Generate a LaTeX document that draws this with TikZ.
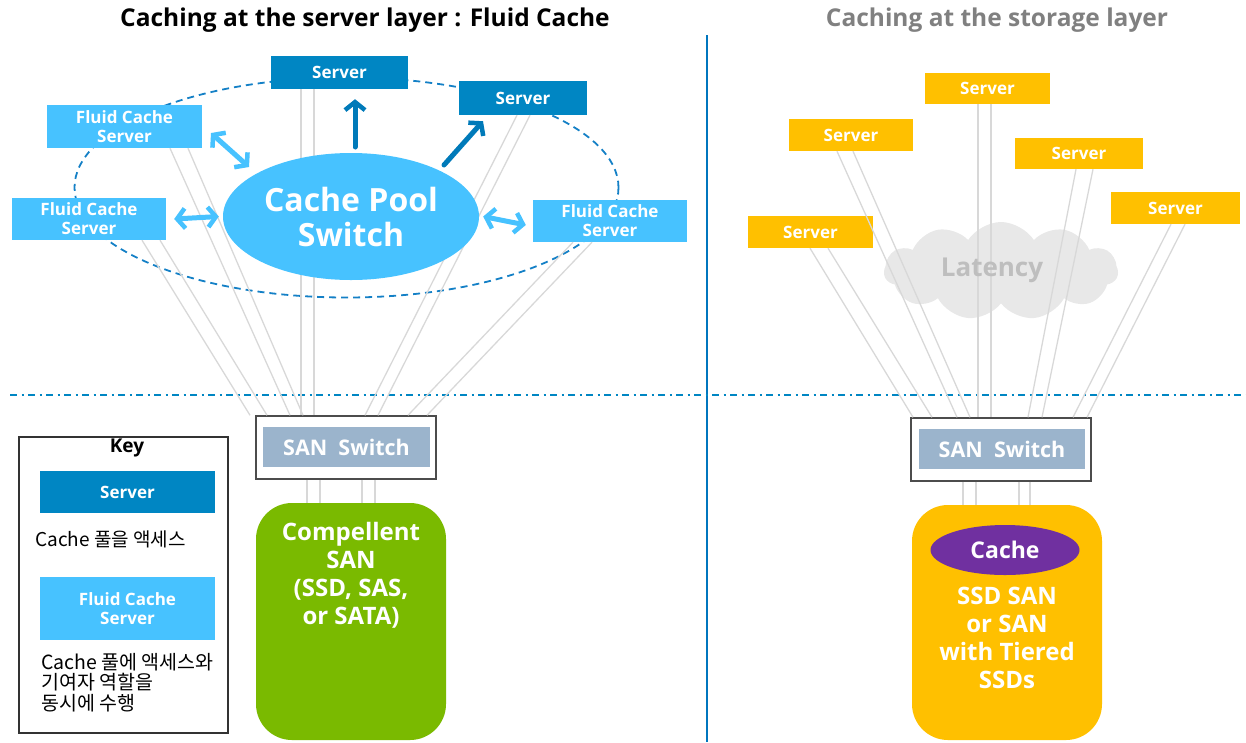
\documentclass[tikz,border=0pt]{standalone}
\usepackage{fontspec}
\setmainfont{Open Sans}
\newfontfamily\kr{Noto Sans CJK KR}
\usetikzlibrary{arrows.meta,shapes.geometric,shapes.symbols}
\definecolor{dblue}{RGB}{0,134,195}
\definecolor{lblue}{RGB}{71,194,255}
\definecolor{abl}{RGB}{0,122,185}
\definecolor{dashbl}{RGB}{20,128,198}
\definecolor{gline}{RGB}{216,216,216}
\definecolor{sanfill}{RGB}{155,180,204}
\definecolor{green1}{RGB}{122,186,0}
\definecolor{gold}{RGB}{255,192,0}
\definecolor{purp}{RGB}{112,48,160}
\definecolor{cloudc}{RGB}{232,232,232}
\definecolor{lattxt}{RGB}{190,190,190}
\definecolor{ttlgray}{RGB}{128,128,128}
\definecolor{divbl}{RGB}{0,118,190}
\tikzset{
  box/.style={rectangle, inner sep=0pt, text=white, font=\bfseries\fontsize{17}{19}\selectfont, align=center},
  srv/.style={box, fill=dblue},
  fcs/.style={box, fill=lblue},
  gsrv/.style={box, fill=gold},
  gl/.style={draw=gline, line width=1.3pt},
  dbl/.style={draw=lblue, line width=5pt, line cap=round, {Straight Barb[length=8pt,width=20pt,line width=4.5pt]}-{Straight Barb[length=8pt,width=20pt,line width=4.5pt]}},
  sarr/.style={draw=abl, line width=5pt, line cap=round, -{Straight Barb[length=8pt,width=20pt,line width=4.5pt]}},
  sanout/.style={rectangle, draw=black!70, line width=1.5pt, fill=white, inner sep=0pt, minimum width=180pt, minimum height=63pt},
  sanin/.style={rectangle, fill=sanfill, inner sep=0pt, minimum width=167pt, minimum height=40pt, text=white, font=\bfseries\fontsize{21.5}{23}\selectfont},
  stor/.style={rectangle, rounded corners=36pt, inner sep=0pt, minimum width=190pt, text=white},
  bigtxt/.style={text=white, font=\bfseries\fontsize{24}{28}\selectfont, align=center, inner sep=0pt},
}
\begin{document}
\begin{tikzpicture}[x=1pt,y=-1pt]
\useasboundingbox (0,0) rectangle (1246,742);
% titles
\node[font=\bfseries\fontsize{24.5}{27}\selectfont] (t1) at (365,20) {Caching at the server layer : Fluid Cache};
\node[font=\bfseries\fontsize{24.5}{27}\selectfont, text=ttlgray] (t2) at (997,20) {Caching at the storage layer};
% dividers
\coordinate (vtop) at (707,35);
\coordinate (vbot) at (707,742);
\draw[divbl, line width=1.4pt] (vtop) -- (vbot);
\coordinate (hl) at (10,395);
\coordinate (hr) at (1246,395);
\draw[dblue, line width=1.5pt, dash pattern=on 7pt off 4.5pt on 2pt off 4.5pt] (hl) -- (hr);

% ---------------- left side ----------------
\draw[dashbl, line width=1.8pt, dash pattern=on 7pt off 5pt] (346.5,187.5) ellipse [x radius=272, y radius=110];
\node[srv, minimum width=137pt, minimum height=33pt] (srvA) at (339.5,72.5) {Server};
\node[srv, minimum width=128pt, minimum height=34pt] (srvB) at (523,98) {Server};
\node[fcs, minimum width=155pt, minimum height=43pt] (fcs1) at (124.5,126.5) {Fluid Cache\\Server};
\node[fcs, minimum width=154pt, minimum height=42pt] (fcs2) at (89,219) {Fluid Cache\\Server};
\node[fcs, minimum width=154pt, minimum height=42pt] (fcs3) at (610,221) {Fluid Cache\\Server};

\node[sanout] (sanLo) at (346,447.5) {};
\node[sanin] (sanL) at (346.5,447) {SAN\ \ Switch};

% gray links
\draw[gl] ([xshift=53]fcs2.south) -- ([xshift=-96]sanLo.north);
\draw[gl] ([xshift=71]fcs2.south) -- ([xshift=-79]sanLo.north);
\draw[gl] ([xshift=45.5]fcs1.south) -- ([xshift=-56]sanLo.north);
\draw[gl] ([xshift=63.5]fcs1.south) -- ([xshift=-43]sanLo.north);
\draw[gl] ([xshift=-38.5]srvA.south) -- ([xshift=-45]sanLo.north);
\draw[gl] ([xshift=-25.5]srvA.south) -- ([xshift=-32]sanLo.north);
\draw[gl] ([xshift=-6]srvB.south) -- ([xshift=19]sanLo.north);
\draw[gl] ([xshift=7]srvB.south) -- ([xshift=32]sanLo.north);
\draw[gl] ([xshift=-37]fcs3.south) -- ([xshift=62]sanLo.north);
\draw[gl] ([xshift=-18]fcs3.south) -- ([xshift=81]sanLo.north);

\node[ellipse, fill=lblue, inner sep=0pt, minimum width=256pt, minimum height=127pt, text=white, font=\bfseries\fontsize{32}{35}\selectfont, align=center] (pool) at (351,216.5) {Cache Pool\\Switch};

\coordinate (a1s) at (355,147);
\coordinate (a2s) at (444,165);
\draw[sarr] (a1s) -- ([xshift=15.5, yshift=-10]srvA.south);
\draw[sarr] (a2s) -- ([xshift=-40, yshift=-6]srvB.south);
\coordinate (d1s) at (211,133);
\coordinate (d1e) at (249,167);
\draw[dbl] (d1s) -- (d1e);
\draw[dbl] ([xshift=8]fcs2.east) -- ([xshift=-4]pool.west);
\draw[dbl] ([xshift=4]pool.east) -- ([xshift=-7, yshift=-4]fcs3.west);

% storage left
\node[stor, fill=green1, minimum height=237pt] (storL) at (351,621.5) {};
\node[bigtxt, anchor=north] (storLt) at (351,522) {Compellent\\SAN\\(SSD, SAS,\\or SATA)};
\foreach \dx in {-39,-26,16,29}
  \draw[gl] ([xshift=\dx]sanLo.south) -- ([xshift=\dx]sanLo.south |- storL.north);

% key
\node[rectangle, draw=black!80, line width=1.3pt, minimum width=209pt, minimum height=296pt, inner sep=0pt] (keybox) at (123.5,585) {};
\node[font=\bfseries\fontsize{19}{21}\selectfont] (keyt) at (127,448) {Key};
\node[srv, minimum width=175pt, minimum height=42pt] (keysrv) at (127.5,492) {Server};
\node[anchor=west, inner sep=0pt, font=\kr\fontsize{19}{21}\selectfont] (keytx1) at (35,539) {Cache 풀을 액세스};
\node[fcs, minimum width=175pt, minimum height=63pt] (keyfcs) at (127.5,608.5) {Fluid Cache\\Server};
\node[anchor=north west, inner sep=0pt, align=left, font=\kr\fontsize{19.5}{20.5}\selectfont] (keytx2) at (41,653) {Cache 풀에 액세스와\\기여자 역할을\\동시에 수행};

% ---------------- right side ----------------
\node[cloud, cloud puffs=11, cloud puff arc=115, aspect=2.4, fill=cloudc, inner sep=0pt, minimum width=234pt, minimum height=98pt] (cloudn) at (1001,271) {};
\node[gsrv, minimum width=125pt, minimum height=32pt] (sE) at (810.5,232) {Server};
\node[gsrv, minimum width=124pt, minimum height=32pt] (sA) at (851,135) {Server};
\node[gsrv, minimum width=125pt, minimum height=31pt] (sB) at (987.5,88.5) {Server};
\node[gsrv, minimum width=128pt, minimum height=31pt] (sC) at (1079,153.5) {Server};
\node[gsrv, minimum width=129pt, minimum height=32pt] (sD) at (1175.5,208) {Server};

\node[sanout] (sanRo) at (1001,449.5) {};
\node[sanin, minimum width=166pt] (sanR) at (1002,449) {SAN\ \ Switch};

\draw[gl] ([xshift=-0.5]sE.south) -- ([xshift=-88]sanRo.north);
\draw[gl] ([xshift=17.5]sE.south) -- ([xshift=-69]sanRo.north);
\draw[gl] ([xshift=-14]sA.south) -- ([xshift=-44]sanRo.north);
\draw[gl] ([xshift=2]sA.south) -- ([xshift=-31]sanRo.north);
\draw[gl] ([xshift=-9.5]sB.south) -- ([xshift=-23]sanRo.north);
\draw[gl] ([xshift=3.5]sB.south) -- ([xshift=-10]sanRo.north);
\draw[gl] ([xshift=-3]sC.south) -- ([xshift=27]sanRo.north);
\draw[gl] ([xshift=14]sC.south) -- ([xshift=41]sanRo.north);
\draw[gl] ([xshift=-4.5]sD.south) -- ([xshift=72]sanRo.north);
\draw[gl] ([xshift=9.5]sD.south) -- ([xshift=86]sanRo.north);

\node[font=\bfseries\fontsize{26}{28}\selectfont, text=lattxt] (lat) at (992,270) {Latency};

\node[stor, fill=gold, minimum height=235pt] (storR) at (1007,622.5) {};
\foreach \dx in {-38,-25,18,29}
  \draw[gl] ([xshift=\dx]sanRo.south) -- ([xshift=\dx]sanRo.south |- storR.north);
\node[ellipse, fill=purp, inner sep=0pt, minimum width=149pt, minimum height=50pt, text=white, font=\bfseries\fontsize{23}{25}\selectfont] (cache) at (1005,550) {Cache};
\node[bigtxt, anchor=north] (storRt) at (1007,587) {SSD SAN\\or SAN\\with Tiered\\SSDs};
\end{tikzpicture}
\end{document}
